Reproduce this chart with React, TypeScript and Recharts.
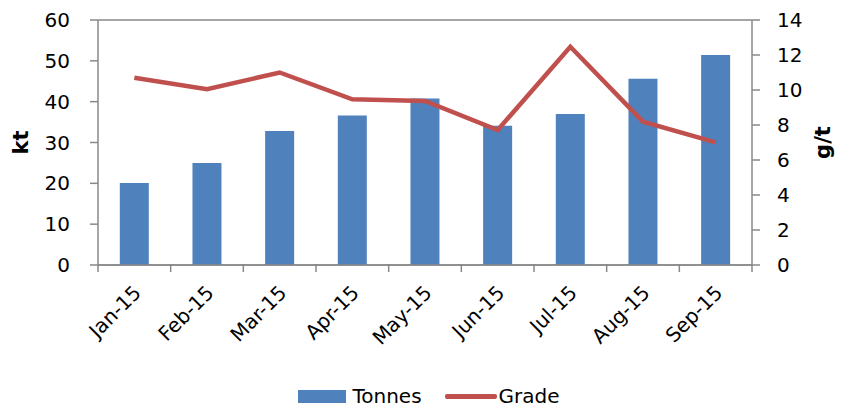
import { ComposedChart, Bar, Line, XAxis, YAxis, CartesianGrid, Legend } from 'recharts';

const months = ['Jan-15', 'Feb-15', 'Mar-15', 'Apr-15', 'May-15', 'Jun-15', 'Jul-15', 'Aug-15', 'Sep-15'];
const tonnes = [20.1, 25.0, 32.8, 36.6, 40.8, 34.1, 37.0, 45.6, 51.4];
const grade = [10.7, 10.04, 11.0, 9.47, 9.37, 7.71, 12.47, 8.19, 7.01];
const ktTicks = [0, 10, 20, 30, 40, 50, 60];
const gtTicks = [0, 2, 4, 6, 8, 10, 12, 14];

const data = months.map((m, i) => ({ month: m, Tonnes: tonnes[i], Grade: grade[i] }));

const FONT = '"DejaVu Sans", sans-serif';
const AXIS = '#898989';

// category ticks sit between bars, so draw them at band edges
function MonthTick(props: any) {
  const { x, y, payload, index } = props;
  const half = payload.offset ?? 0;
  const top = y - 8;
  const tx = x + 8;
  const ty = y + 21;
  return (
    <g>
      <line x1={x - half} x2={x - half} y1={top - 1} y2={top + 7} stroke={AXIS} strokeWidth={1.5} />
      {index === months.length - 1 && (
        <line x1={x + half} x2={x + half} y1={top - 1} y2={top + 7} stroke={AXIS} strokeWidth={1.5} />
      )}
      <text
        x={tx}
        y={ty}
        textAnchor="end"
        fontSize={20}
        fontFamily={FONT}
        fill="#000"
        transform={`rotate(-45, ${tx}, ${ty})`}
      >
        {payload.value}
      </text>
    </g>
  );
}

function LegendBox() {
  return (
    <div style={{ display: 'flex', justifyContent: 'center', alignItems: 'center', height: 24, paddingLeft: 13, fontFamily: FONT, fontSize: 20 }}>
      <span style={{ width: 48, height: 13, background: '#4F81BD', display: 'inline-block', marginRight: 6 }} />
      <span style={{ marginRight: 23 }}>Tonnes</span>
      <span style={{ width: 52, height: 5, borderRadius: 2, background: '#C0504D', display: 'inline-block', marginRight: 2 }} />
      <span>Grade</span>
    </div>
  );
}

export default function App() {
  return (
    <div style={{ position: 'absolute', left: 0, top: 0, width: 845, height: 408, background: '#fff' }}>
      <ComposedChart
        width={845}
        height={408}
        data={data}
        margin={{ top: 20, right: 0, bottom: 0, left: 0 }}
        barCategoryGap="30%"
      >
        <CartesianGrid vertical={false} stroke={AXIS} strokeWidth={1.5} />
        <XAxis
          dataKey="month"
          height={119}
          tickLine={false}
          axisLine={{ stroke: AXIS, strokeWidth: 1.5 }}
          tick={<MonthTick />}
          interval={0}
        />
        <YAxis
          yAxisId="kt"
          domain={[0, 60]}
          ticks={ktTicks}
          width={98}
          tickSize={8}
          tickMargin={20}
          tickLine={{ stroke: AXIS, strokeWidth: 1.5 }}
          axisLine={{ stroke: AXIS, strokeWidth: 1.5 }}
          tick={{ fontSize: 20, fontFamily: FONT, fill: '#000' }}
          label={{ value: 'kt', angle: -90, position: 'insideLeft', offset: 21, style: { fontSize: 21, fontWeight: 'bold', fontFamily: FONT, fill: '#000', textAnchor: 'middle' } }}
        />
        <YAxis
          yAxisId="gt"
          orientation="right"
          domain={[0, 14]}
          ticks={gtTicks}
          width={93}
          tickSize={8}
          tickMargin={17}
          tickLine={{ stroke: AXIS, strokeWidth: 1.5 }}
          axisLine={{ stroke: AXIS, strokeWidth: 1.5 }}
          tick={{ fontSize: 20, fontFamily: FONT, fill: '#000' }}
          label={{ value: 'g/t', angle: -90, position: 'insideRight', offset: 22, style: { fontSize: 21, fontWeight: 'bold', fontFamily: FONT, fill: '#000', textAnchor: 'middle' } }}
        />
        <Bar yAxisId="kt" dataKey="Tonnes" fill="#4F81BD" isAnimationActive={false} />
        <Line
          yAxisId="gt"
          dataKey="Grade"
          stroke="#C0504D"
          strokeWidth={4.5}
          dot={false}
          type="linear"
          isAnimationActive={false}
        />
        <Legend verticalAlign="bottom" content={() => <LegendBox />} />
      </ComposedChart>
    </div>
  );
}
